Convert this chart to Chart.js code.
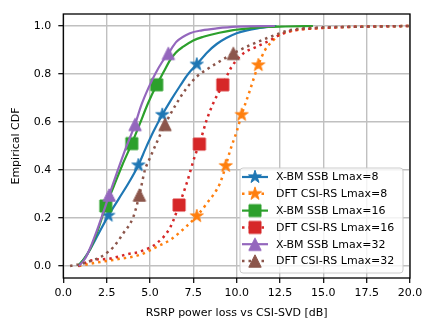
<!DOCTYPE html>
<html>
<head>
<meta charset="utf-8">
<script src="https://cdn.jsdelivr.net/npm/chart.js@4.4.1/dist/chart.umd.min.js"></script>
<style>
  html, body { margin: 0; padding: 0; background: #fff; }
  #wrap { width: 436px; height: 335px; }
</style>
</head>
<body>
<div id="wrap"><canvas id="cdfChart" width="436" height="335"></canvas></div>
<script>
// axis ticks
const xTicks = [0, 2.5, 5, 7.5, 10, 12.5, 15, 17.5, 20];
const yTicks = [0, 0.2, 0.4, 0.6, 0.8, 1.0];

// X-BM SSB Lmax=8
const xbm8X = [0.85, 1.2, 1.55, 2.0, 2.6, 3.2, 3.8, 4.33, 4.75, 5.2, 5.71, 6.2, 6.73, 7.2, 7.7, 8.3, 8.85, 9.4, 10.0, 10.6, 11.2, 12.3];
const xbm8Y = [0, 0.03, 0.07, 0.13, 0.21, 0.28, 0.35, 0.42, 0.49, 0.56, 0.63, 0.69, 0.75, 0.80, 0.84, 0.89, 0.925, 0.95, 0.97, 0.982, 0.99, 1.0];
const xbm8Marks = [4, 7, 10, 14];

// DFT CSI-RS Lmax=8
const dft8X = [0.9, 2.0, 3.1, 4.4, 5.4, 6.2, 7.1, 7.7, 8.27, 9.04, 9.37, 9.62, 10.0, 10.29, 10.77, 11.25, 11.64, 12.1, 12.4, 13.2, 14.5, 16, 18, 20];
const dft8Y = [0, 0.015, 0.028, 0.046, 0.08, 0.11, 0.165, 0.208, 0.26, 0.345, 0.417, 0.48, 0.56, 0.63, 0.733, 0.837, 0.9, 0.94, 0.96, 0.98, 0.99, 0.995, 0.998, 1.0];
const dft8Marks = [7, 10, 13, 15];

// X-BM SSB Lmax=16
const xbm16X = [0.85, 1.2, 1.55, 2.0, 2.45, 2.9, 3.4, 3.95, 4.4, 4.9, 5.39, 5.8, 6.16, 6.5, 6.92, 7.5, 8.08, 9.0, 9.8, 10.8, 11.7, 12.8, 14.4];
const xbm16Y = [0, 0.03, 0.07, 0.15, 0.25, 0.33, 0.42, 0.51, 0.59, 0.68, 0.755, 0.81, 0.858, 0.89, 0.914, 0.94, 0.955, 0.972, 0.983, 0.991, 0.996, 0.998, 1.0];
const xbm16Marks = [4, 7, 10];

// DFT CSI-RS Lmax=16
const dft16X = [0.85, 1.73, 2.6, 3.75, 4.42, 5.39, 6.16, 6.68, 7.12, 7.6, 7.85, 8.27, 8.65, 9.2, 9.71, 10.39, 11.16, 11.92, 12.4, 13.2, 14.5, 16, 18, 20];
const dft16Y = [0, 0.025, 0.03, 0.05, 0.06, 0.095, 0.16, 0.254, 0.345, 0.46, 0.508, 0.608, 0.678, 0.755, 0.83, 0.886, 0.914, 0.94, 0.96, 0.98, 0.99, 0.995, 0.998, 1.0];
const dft16Marks = [7, 10, 13];

// X-BM SSB Lmax=32
const xbm32X = [0.9, 1.25, 1.55, 2.0, 2.65, 3.1, 3.6, 4.14, 4.5, 4.9, 5.3, 5.7, 6.06, 6.54, 7.31, 8.0, 8.85, 10.0, 12.2];
const xbm32Y = [0, 0.03, 0.075, 0.16, 0.296, 0.39, 0.49, 0.59, 0.67, 0.74, 0.80, 0.85, 0.886, 0.935, 0.97, 0.982, 0.99, 0.997, 1.0];
const xbm32Marks = [4, 7, 12];

// DFT CSI-RS Lmax=32
const dft32X = [0.39, 1.15, 1.73, 2.1, 2.6, 2.9, 3.46, 4.04, 4.39, 4.71, 5.0, 5.3, 5.87, 6.54, 7.1, 7.7, 8.3, 8.85, 9.81, 10.77, 11.73, 12.5, 13.2, 14.5, 16.0, 18.0, 20.0];
const dft32Y = [0, 0.011, 0.025, 0.035, 0.06, 0.08, 0.136, 0.205, 0.296, 0.4, 0.45, 0.5, 0.59, 0.678, 0.74, 0.789, 0.82, 0.845, 0.886, 0.92, 0.949, 0.97, 0.985, 0.993, 0.996, 0.998, 1.0];
const dft32Marks = [8, 12, 18];

const FONT = 'DejaVu Sans';
Chart.defaults.font.family = FONT;
Chart.defaults.font.size = 11;
Chart.defaults.color = '#000';

// matplotlib-like filled markers as small canvases
function makeMarker(shape, color) {
    const size = 18;
    const c = document.createElement('canvas');
    c.width = size;
    c.height = size;
    const g = c.getContext('2d');
    g.translate(size / 2, size / 2);
    g.fillStyle = color;
    g.strokeStyle = color;
    g.lineWidth = 1;
    g.beginPath();
    if (shape === 'star') {
        const R = 6.8, r = R * 0.381966;
        for (let i = 0; i < 10; i++) {
            const rad = i % 2 ? r : R;
            const a = -Math.PI / 2 + i * Math.PI / 5;
            g.lineTo(rad * Math.cos(a), rad * Math.sin(a));
        }
    } else if (shape === 'square') {
        g.rect(-6, -6, 12, 12);
    } else {
        g.moveTo(0, -6.2);
        g.lineTo(-6.2, 6.2);
        g.lineTo(6.2, 6.2);
    }
    g.closePath();
    g.fill();
    g.stroke();
    return c;
}

const series = [
    { label: 'X-BM SSB Lmax=8', xs: xbm8X, ys: xbm8Y, marks: xbm8Marks, color: '#1f77b4', dotted: false, shape: 'star' },
    { label: 'DFT CSI-RS Lmax=8', xs: dft8X, ys: dft8Y, marks: dft8Marks, color: '#ff7f0e', dotted: true, shape: 'star' },
    { label: 'X-BM SSB Lmax=16', xs: xbm16X, ys: xbm16Y, marks: xbm16Marks, color: '#2ca02c', dotted: false, shape: 'square' },
    { label: 'DFT CSI-RS Lmax=16', xs: dft16X, ys: dft16Y, marks: dft16Marks, color: '#d62728', dotted: true, shape: 'square' },
    { label: 'X-BM SSB Lmax=32', xs: xbm32X, ys: xbm32Y, marks: xbm32Marks, color: '#9467bd', dotted: false, shape: 'triangle' },
    { label: 'DFT CSI-RS Lmax=32', xs: dft32X, ys: dft32Y, marks: dft32Marks, color: '#8c564b', dotted: true, shape: 'triangle' }
];
series.forEach(s => { s.img = makeMarker(s.shape, s.color); });

const datasets = series.map((s, i) => ({
    label: s.label,
    data: s.xs.map((x, j) => ({ x: x, y: s.ys[j] })),
    borderColor: s.color,
    backgroundColor: s.color,
    borderWidth: s.dotted ? 2.5 : 2.2,
    borderDash: s.dotted ? [2.5, 4] : [],
    borderCapStyle: 'butt',
    cubicInterpolationMode: 'monotone',
    pointStyle: s.img,
    pointRadius: ctx => s.marks.includes(ctx.dataIndex) ? 6 : 0,
    pointHoverRadius: 0,
    order: series.length - i
}));

// full black frame like matplotlib spines
const frame = {
    id: 'frame',
    afterDatasetsDraw(chart) {
        const { ctx, chartArea: a } = chart;
        ctx.save();
        ctx.strokeStyle = '#000';
        ctx.lineWidth = 1.3;
        ctx.strokeRect(a.left, a.top, a.right - a.left, a.bottom - a.top);
        ctx.restore();
    }
};

// legend box in the lower right corner of the plot
const legendBox = {
    id: 'legendBox',
    afterDraw(chart) {
        const { ctx, chartArea: a } = chart;
        const w = 163, h = 105;
        const x0 = a.right - 7 - w, y0 = a.bottom - 5 - h;
        ctx.save();
        ctx.beginPath();
        ctx.roundRect(x0, y0, w, h, 3);
        ctx.fillStyle = 'rgba(255,255,255,0.8)';
        ctx.fill();
        ctx.strokeStyle = '#cccccc';
        ctx.lineWidth = 1;
        ctx.stroke();
        ctx.font = '11px "' + FONT + '"';
        ctx.textBaseline = 'middle';
        ctx.textAlign = 'left';
        series.forEach((s, i) => {
            const y = y0 + 9 + i * 16.8;
            ctx.beginPath();
            ctx.strokeStyle = s.color;
            ctx.lineWidth = s.dotted ? 2.5 : 2.2;
            ctx.setLineDash(s.dotted ? [2.5, 4] : []);
            ctx.moveTo(x0 + 2, y);
            ctx.lineTo(x0 + 28, y);
            ctx.stroke();
            ctx.setLineDash([]);
            ctx.drawImage(s.img, x0 + 15 - s.img.width / 2, y - s.img.height / 2);
            ctx.fillStyle = '#000';
            ctx.fillText(s.label, x0 + 36, y + 0.5);
        });
        ctx.restore();
    }
};

new Chart(document.getElementById('cdfChart'), {
    type: 'line',
    data: { datasets: datasets },
    options: {
        responsive: false,
        animation: false,
        events: [],
        layout: { padding: { left: 0, right: 26, top: 14, bottom: 0 } },
        plugins: { legend: { display: false }, tooltip: { enabled: false } },
        scales: {
            x: {
                type: 'linear',
                min: 0,
                max: 20,
                afterBuildTicks: scale => { scale.ticks = xTicks.map(v => ({ value: v })); },
                afterFit: scale => { scale.height = 57; },
                ticks: { callback: v => v.toFixed(1), padding: 4, maxRotation: 0, autoSkip: false },
                grid: { color: '#c0c0c0', lineWidth: 1.4, tickColor: '#000', tickLength: 5, tickWidth: 1.2 },
                border: { display: false },
                title: { display: true, text: 'RSRP power loss vs CSI-SVD [dB]', padding: { top: 0, bottom: 15 } }
            },
            y: {
                min: -0.05,
                max: 1.05,
                afterBuildTicks: scale => { scale.ticks = yTicks.map(v => ({ value: v })); },
                afterFit: scale => { scale.width = 63.3; },
                ticks: { callback: v => v.toFixed(1), padding: 7, autoSkip: false },
                grid: { color: '#c0c0c0', lineWidth: 1.4, tickColor: '#000', tickLength: 5, tickWidth: 1.2 },
                border: { display: false },
                title: { display: true, text: 'Empirical CDF', padding: { top: 10, bottom: 0 } }
            }
        }
    },
    plugins: [frame, legendBox]
});
</script>
</body>
</html>
